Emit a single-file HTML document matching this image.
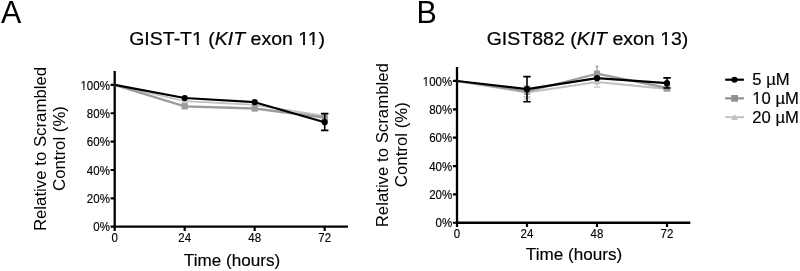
<!DOCTYPE html>
<html><head><meta charset="utf-8">
<style>
html,body{margin:0;padding:0;background:#fff;}
body{width:800px;height:271px;overflow:hidden;}
svg{display:block;will-change:transform;}
text{font-family:"Liberation Sans",sans-serif;fill:#000;}
.ax{stroke:#000;stroke-width:2.3;fill:none;}
.tick{stroke:#000;stroke-width:2.2;fill:none;}
</style></head><body>
<svg width="800" height="271" viewBox="0 0 800 271">
<rect width="800" height="271" fill="#fff"/>
<text transform="translate(0.9,23.2) scale(0.962,1)" font-size="31.6">A</text>
<text transform="translate(416.6,23.2) scale(0.962,1)" font-size="31.6">B</text>
<!-- Panel A -->
<g transform="translate(129.2,45.0) scale(1.066,1)"><text id="t0" font-size="18.3" stroke="#000" stroke-width="0.2">GIST-T1 (<tspan font-style="italic">KIT</tspan> exon 11)</text><path fill="#fff" transform="translate(58.93,0) scale(0.008936,-0.008936)" d="M50 -220H500V330H50Z M711 -220H1125V330H711Z"/><path fill="#fff" transform="translate(158.589,0) scale(0.008936,-0.008936)" d="M50 -220H500V330H50Z M711 -220H1125V330H711Z"/><path fill="#fff" transform="translate(167.403,0) scale(0.008936,-0.008936)" d="M50 -220H500V330H50Z M711 -220H1125V330H711Z"/></g>
<g transform="translate(45.9,149.0) rotate(-90) scale(1.063,1)"><text id="t1" text-anchor="middle" font-size="15.8">Relative to Scrambled</text></g>
<g transform="translate(64.6,148.5) rotate(-90) scale(1.063,1)"><text id="t2" text-anchor="middle" font-size="15.8">Control (%)</text></g>
<g transform="translate(232,265.7) scale(1.07,1)"><text id="t3" text-anchor="middle" font-size="16" stroke="#000" stroke-width="0.15">Time (hours)</text></g>
<path class="ax" d="M114.7,71.07 V227.85 M113.55,226.7 H348.03"/>
<path class="tick" d="M110.6,226.7H114.7 M110.6,198.34H114.7 M110.6,169.98H114.7 M110.6,141.62H114.7 M110.6,113.26H114.7 M110.6,84.9H114.7"/>
<path class="tick" d="M114.7,226.7V230.9 M184.7,226.7V230.9 M254.7,226.7V230.9 M324.7,226.7V230.9"/>
<g transform="translate(109.9,231.4) scale(0.96,1)"><text id="t4" text-anchor="end" font-size="12.0" stroke="#000" stroke-width="0.15">0%</text></g>
<g transform="translate(109.9,203.04) scale(0.96,1)"><text id="t5" text-anchor="end" font-size="12.0" stroke="#000" stroke-width="0.15">20%</text></g>
<g transform="translate(109.9,174.68) scale(0.96,1)"><text id="t6" text-anchor="end" font-size="12.0" stroke="#000" stroke-width="0.15">40%</text></g>
<g transform="translate(109.9,146.32) scale(0.96,1)"><text id="t7" text-anchor="end" font-size="12.0" stroke="#000" stroke-width="0.15">60%</text></g>
<g transform="translate(109.9,117.96) scale(0.96,1)"><text id="t8" text-anchor="end" font-size="12.0" stroke="#000" stroke-width="0.15">80%</text></g>
<g transform="translate(109.9,89.6) scale(0.96,1)"><text id="t9" text-anchor="end" font-size="12.0" stroke="#000" stroke-width="0.15">100%</text><path fill="#fff" transform="translate(-30.67,0) scale(0.005859,-0.005859)" d="M50 -220H498V330H50Z M713 -220H1125V330H713Z"/></g>
<g transform="translate(114.7,242.1) scale(0.95,1)"><text id="t10" text-anchor="middle" font-size="12.1" stroke="#000" stroke-width="0.15">0</text></g>
<g transform="translate(184.7,242.1) scale(0.95,1)"><text id="t11" text-anchor="middle" font-size="12.1" stroke="#000" stroke-width="0.15">24</text></g>
<g transform="translate(254.7,242.1) scale(0.95,1)"><text id="t12" text-anchor="middle" font-size="12.1" stroke="#000" stroke-width="0.15">48</text></g>
<g transform="translate(324.7,242.1) scale(0.95,1)"><text id="t13" text-anchor="middle" font-size="12.1" stroke="#000" stroke-width="0.15">72</text></g>
<g stroke="#c2c2c2" fill="#c2c2c2">
<polyline fill="none" stroke-width="1.7" stroke-linejoin="round" points="114.7,84.8 184.7,101.1 254.7,104.8 324.7,115.8"/>
<path stroke="none" d="M184.7,97.5 l3.3,6.0 h-6.6z"/>
<path stroke="none" d="M254.7,101.2 l3.3,6.0 h-6.6z"/>
<path stroke="none" d="M324.7,112.2 l3.3,6.0 h-6.6z"/>
</g>
<g stroke="#9b9b9b" fill="#9b9b9b">
<polyline fill="none" stroke-width="2.3" stroke-linejoin="round" points="114.7,84.8 184.7,106.3 254.7,108.5 324.7,117.5"/>
<rect stroke="none" x="181.55" y="103.15" width="6.3" height="6.3"/>
<rect stroke="none" x="251.55" y="105.35" width="6.3" height="6.3"/>
<rect stroke="none" x="321.55" y="114.35" width="6.3" height="6.3"/>
</g>
<g stroke="#000" fill="#000">
<polyline fill="none" stroke-width="2.2" stroke-linejoin="round" points="114.7,84.8 184.7,98 254.7,102.2 324.7,122.2"/>
<path fill="none" stroke-width="1.6" d="M324.7,113.6V130.4 M321.0,113.6h7.4 M321.0,130.4h7.4"/>
<circle stroke="none" cx="184.7" cy="98" r="3.1"/>
<circle stroke="none" cx="254.7" cy="102.2" r="3.1"/>
<circle stroke="none" cx="324.7" cy="122.2" r="3.1"/>
</g>
<!-- Panel B -->
<g transform="translate(486.7,45.35) scale(1.066,1)"><text id="t14" font-size="18.3" stroke="#000" stroke-width="0.2">GIST882 (<tspan font-style="italic">KIT</tspan> exon 13)</text><path fill="#fff" transform="translate(162.686,0) scale(0.008936,-0.008936)" d="M50 -220H500V330H50Z M711 -220H1125V330H711Z"/></g>
<g transform="translate(387.9,145.2) rotate(-90) scale(1.063,1)"><text id="t15" text-anchor="middle" font-size="15.8">Relative to Scrambled</text></g>
<g transform="translate(406.6,144.7) rotate(-90) scale(1.063,1)"><text id="t16" text-anchor="middle" font-size="15.8">Control (%)</text></g>
<g transform="translate(574.0,260.4) scale(1.07,1)"><text id="t17" text-anchor="middle" font-size="16" stroke="#000" stroke-width="0.15">Time (hours)</text></g>
<path class="ax" d="M457.0,67.12 V223.9 M455.85,222.75 H690.33"/>
<path class="tick" d="M452.9,222.75H457.0 M452.9,194.39H457.0 M452.9,166.03H457.0 M452.9,137.67H457.0 M452.9,109.31H457.0 M452.9,80.95H457.0"/>
<path class="tick" d="M457.0,222.75V226.95 M527.0,222.75V226.95 M597.0,222.75V226.95 M667.0,222.75V226.95"/>
<g transform="translate(452.2,227.45) scale(0.96,1)"><text id="t18" text-anchor="end" font-size="12.0" stroke="#000" stroke-width="0.15">0%</text></g>
<g transform="translate(452.2,199.09) scale(0.96,1)"><text id="t19" text-anchor="end" font-size="12.0" stroke="#000" stroke-width="0.15">20%</text></g>
<g transform="translate(452.2,170.73) scale(0.96,1)"><text id="t20" text-anchor="end" font-size="12.0" stroke="#000" stroke-width="0.15">40%</text></g>
<g transform="translate(452.2,142.37) scale(0.96,1)"><text id="t21" text-anchor="end" font-size="12.0" stroke="#000" stroke-width="0.15">60%</text></g>
<g transform="translate(452.2,114.01) scale(0.96,1)"><text id="t22" text-anchor="end" font-size="12.0" stroke="#000" stroke-width="0.15">80%</text></g>
<g transform="translate(452.2,85.65) scale(0.96,1)"><text id="t23" text-anchor="end" font-size="12.0" stroke="#000" stroke-width="0.15">100%</text><path fill="#fff" transform="translate(-30.67,0) scale(0.005859,-0.005859)" d="M50 -220H498V330H50Z M713 -220H1125V330H713Z"/></g>
<g transform="translate(457.0,238.15) scale(0.95,1)"><text id="t24" text-anchor="middle" font-size="12.1" stroke="#000" stroke-width="0.15">0</text></g>
<g transform="translate(527.0,238.15) scale(0.95,1)"><text id="t25" text-anchor="middle" font-size="12.1" stroke="#000" stroke-width="0.15">24</text></g>
<g transform="translate(597.0,238.15) scale(0.95,1)"><text id="t26" text-anchor="middle" font-size="12.1" stroke="#000" stroke-width="0.15">48</text></g>
<g transform="translate(667.0,238.15) scale(0.95,1)"><text id="t27" text-anchor="middle" font-size="12.1" stroke="#000" stroke-width="0.15">72</text></g>
<g stroke="#c2c2c2" fill="#c2c2c2">
<polyline fill="none" stroke-width="2.2" stroke-linejoin="round" points="457.0,81 527.0,92.5 597.0,82 667.0,88.8"/>
<path fill="none" stroke-width="1.2" d="M527.0,86V99 M523.6,86h6.8 M523.6,99h6.8 M597.0,78V87.2 M593.6,87.2h6.8 M667.0,85V91.5 M663.6,91.5h6.8"/>
<path stroke="none" d="M527.0,88.9 l3.3,6.0 h-6.6z"/>
<path stroke="none" d="M597.0,78.4 l3.3,6.0 h-6.6z"/>
<path stroke="none" d="M667.0,85.2 l3.3,6.0 h-6.6z"/>
</g>
<g stroke="#9b9b9b" fill="#9b9b9b">
<polyline fill="none" stroke-width="2.2" stroke-linejoin="round" points="457.0,81 527.0,91.5 597.0,73.7 667.0,87.8"/>
<path fill="none" stroke-width="1.2" d="M527.0,86.4V97 M523.6,86.4h6.8 M523.6,97h6.8 M597.0,66.3V80 M595.5,66.3h3 M667.0,84V90.7 M663.6,90.7h6.8"/>
<rect stroke="none" x="523.85" y="88.35" width="6.3" height="6.3"/>
<rect stroke="none" x="593.85" y="70.55" width="6.3" height="6.3"/>
<rect stroke="none" x="663.85" y="84.65" width="6.3" height="6.3"/>
</g>
<g stroke="#000" fill="#000">
<polyline fill="none" stroke-width="2.2" stroke-linejoin="round" points="457.0,81 527.0,89.2 597.0,78.2 667.0,83.2"/>
<path fill="none" stroke-width="1.6" d="M527.0,76.6V101.8 M523.3,76.6h7.4 M523.3,101.8h7.4 M667.0,77.9V88 M663.3,77.9h7.4 M663.3,88h7.4"/>
<circle stroke="none" cx="527.0" cy="89.2" r="3.1"/>
<circle stroke="none" cx="597.0" cy="78.2" r="3.1"/>
<circle stroke="none" cx="667.0" cy="83.2" r="3.1"/>
</g>
<!-- Legend -->
<g stroke-width="2.4">
<path stroke="#000" stroke-width="2.2" d="M725.2,79.7H743.9"/><circle cx="734.5" cy="79.7" r="3.05" fill="#000"/>
<path stroke="#909090" stroke-width="2.2" d="M725.1,98.35H743.9"/><rect x="731.2" y="95.0" width="6.8" height="6.7" fill="#909090"/>
<path stroke="#c2c2c2" stroke-width="2" d="M725.3,117.2H744"/><path fill="#c2c2c2" d="M734.6,113.9 l3.3,6 h-6.6z"/>
</g>
<g transform="translate(752.3,85.4) scale(1.055,1)"><text id="t28" font-size="15.8" stroke="#000" stroke-width="0.15">5 µM</text></g>
<g transform="translate(752.3,104.1) scale(1.055,1)"><text id="t29" font-size="15.8" stroke="#000" stroke-width="0.15">10 µM</text><path fill="#fff" transform="translate(0,0) scale(0.007715,-0.007715)" d="M50 -220H501V330H50Z M710 -220H1125V330H710Z"/></g>
<g transform="translate(752.3,122.8) scale(1.055,1)"><text id="t30" font-size="15.8" stroke="#000" stroke-width="0.15">20 µM</text></g>
</svg>
</body></html>
